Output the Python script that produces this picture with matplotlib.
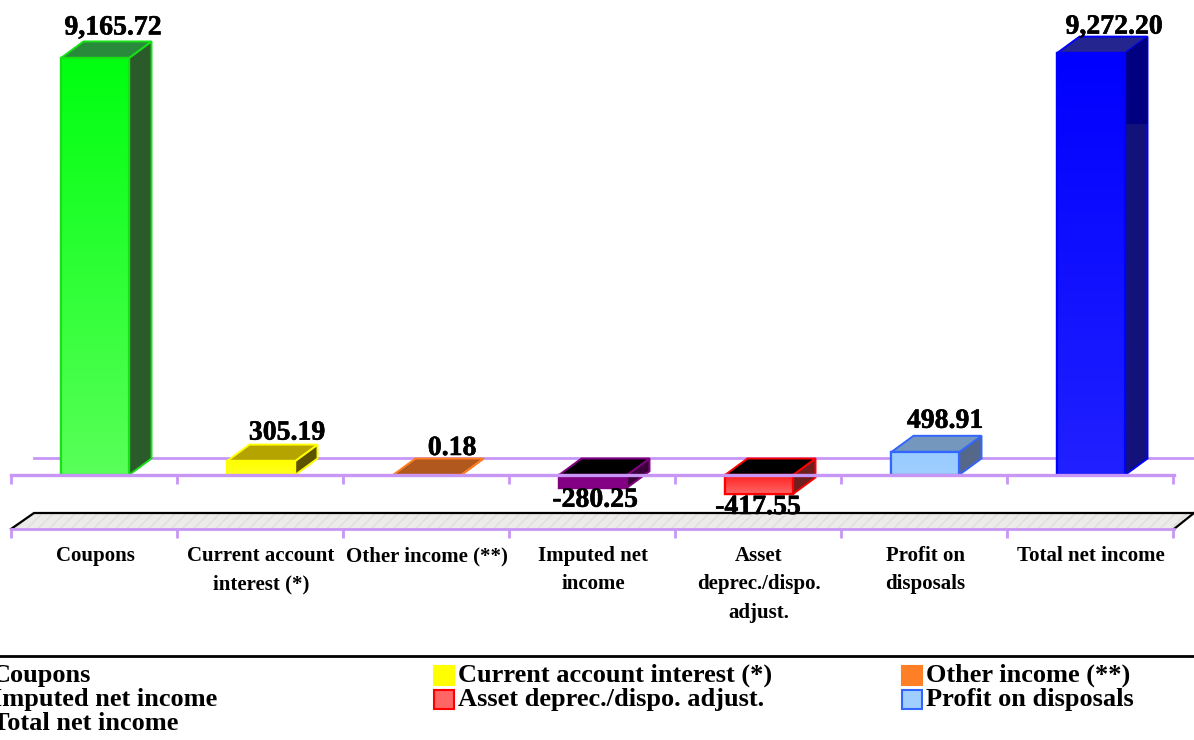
import numpy as np
import matplotlib
matplotlib.use("Agg")
import matplotlib.pyplot as plt
import matplotlib.patheffects as pe
from matplotlib.patches import Polygon
from matplotlib.colors import LinearSegmentedColormap

categories = ["Coupons", "Current account\ninterest (*)", "Other income (**)",
              "Imputed net\nincome", "Asset\ndeprec./dispo.\nadjust.",
              "Profit on\ndisposals", "Total net income"]
legend_names = ["Coupons", "Current account interest (*)", "Other income (**)",
                "Imputed net income", "Asset deprec./dispo. adjust.", "Profit on disposals",
                "Total net income"]
values = [9165.72, 305.19, 0.18, -280.25, -417.55, 498.91, 9272.20]
value_labels = ["9,165.72", "305.19", "0.18", "-280.25", "-417.55", "498.91", "9,272.20"]

# styles: front gradient (top, bottom), edge, top face, side face
front_top = ["#00ff10", "#ffff00", "#ff7f27", "#800080", "#ff2020", "#99ccff", "#0000ff"]
front_bot = ["#58ff58", "#ffff20", "#ff7f27", "#880088", "#ff6666", "#a0ceff", "#2020ff"]
edges = ["#16e016", "#ffff00", "#ff7f27", "#800080", "#ff0000", "#3366ff", "#0000ff"]
top_faces = ["#2a8a3c", "#b5a400", "#b0581e", "#000000", "#000000", "#7497bd", "#25258f"]
side_faces = ["#2b5a2b", "#5c5200", "#7a3c10", "#3a003a", "#6e2020", "#55688a", "#12127a"]
label_dx_px = [18, 26, 25, 2, -1, 20, 23]
label_dy_px = [-30, -28, -26.5, 12.5, 13.5, -31, -26]

W, H = 1194, 740
BASE_PX = 475
PX_PER_UNIT = 0.0455
STEP = 166.0
LEFT = 11.0
DX, DY = 22.5, 16.5
BW = 68 / STEP

fig = plt.figure(figsize=(W / 100, H / 100), dpi=100, facecolor="white")
ax = fig.add_axes([0, 0, 1, 1])
xlim = (-0.5 - LEFT / STEP, -0.5 + (W - LEFT) / STEP)
ylim = (-(H - BASE_PX) / PX_PER_UNIT, BASE_PX / PX_PER_UNIT)
ax.set_axis_off()

FONT = "Liberation Serif"
LAV = "#c896f5"
ddx = DX / STEP
ddy = DY / PX_PER_UNIT
px = lambda p: p / STEP
py = lambda p: p / PX_PER_UNIT
X = lambda p: (p - LEFT) / STEP - 0.5
Y = lambda p: (BASE_PX - p) / PX_PER_UNIT

# back wall line
ax.plot([X(34), X(1194)], [Y(458), Y(458)], color=LAV, lw=2, zorder=1)

xs = np.arange(len(values)) + px(1)
for i, (x, v) in enumerate(zip(xs, values)):
    l, r = x - BW / 2, x + BW / 2
    t = max(v, 0)
    b = min(v, 0)
    side = Polygon([(r, b), (r + ddx, b + ddy), (r + ddx, t + ddy), (r, t)],
                   facecolor=side_faces[i], edgecolor=edges[i], lw=1.4, zorder=2, joinstyle="miter")
    top = Polygon([(l, t), (l + ddx, t + ddy), (r + ddx, t + ddy), (r, t)],
                  facecolor=top_faces[i], edgecolor=edges[i], lw=1.4, zorder=2, joinstyle="miter")
    ax.add_patch(side)
    ax.add_patch(top)
    bar = ax.bar(x, v, width=BW, bottom=0, facecolor=front_top[i], edgecolor=edges[i],
                 lw=1.6, zorder=3)[0]
    if abs(v) > 1:
        cm = LinearSegmentedColormap.from_list("g", [front_top[i], front_bot[i]])
        im = ax.imshow(np.linspace(0, 1, 64)[:, None], cmap=cm, aspect="auto",
                       extent=(l, r, b, t), zorder=3.1, interpolation="bilinear")
        im.set_clip_path(bar)
        ax.bar(x, v, width=BW, bottom=0, facecolor="none", edgecolor=edges[i], lw=1.6, zorder=3.2)
    if i == 6:
        # upper part of the blue side face is a darker shade
        upper = Polygon([(r, Y(124)), (r + ddx, Y(124)), (r + ddx, t + ddy), (r, t)],
                        facecolor="#000080", edgecolor="none", zorder=2.5)
        ax.add_patch(upper)

# axis line and ticks at the value zero
ax.plot([X(11), X(1174)], [0, 0], color=LAV, lw=2.4, zorder=4)
ticks = np.arange(len(values) + 1) - 0.5
ax.vlines(ticks, Y(484), 0, color=LAV, lw=2, zorder=4)

# floor band
floor = Polygon([(X(11), Y(529)), (X(34), Y(513)), (X(1194), Y(513)), (X(1174), Y(529))],
                facecolor="#ecebe9", edgecolor="#dededc", hatch="///", lw=0, zorder=1)
ax.add_patch(floor)
ax.plot([X(11), X(34), X(1194)], [Y(529), Y(513), Y(513)], color="black", lw=1.6, zorder=2)
ax.plot([X(1174), X(1194)], [Y(529), Y(513)], color="black", lw=1.6, zorder=2)
ax.plot([X(11), X(1174)], [Y(529), Y(529)], color=LAV, lw=2, zorder=2)
ax.vlines(ticks, Y(538), Y(529), color=LAV, lw=2, zorder=2)

# value labels
for i, (x, v, s) in enumerate(zip(xs, values, value_labels)):
    base = v if v > 0 else (0 if v > -1 else v)
    ax.text(x + px(label_dx_px[i]), base - py(label_dy_px[i]),
            s, ha="center", va="center", family=FONT, weight="bold", fontsize=20, zorder=6,
            color="black", path_effects=[pe.withStroke(linewidth=0.4, foreground="black")])

# category labels
for i, s in enumerate(categories):
    ax.text(i + px(1), Y(546), s, ha="center", va="top", family=FONT, weight="bold", fontsize=15,
            linespacing=1.56, color="black", zorder=6)

# legend block
ax.plot([X(0), X(1194)], [Y(655.5), Y(655.5)], color="black", lw=2, zorder=5)
col_text = [-8, 458, 926]
row_y = [675.5, 699.5, 723.5]
for k, s in enumerate(legend_names):
    c, r = k % 3, k // 3
    tx, ty = col_text[c], row_y[r]
    swatch_l = tx - 25
    fill = front_bot[k] if k in (4, 5, 6) else front_top[k]
    ax.bar(X(swatch_l + 10.5), py(19), width=px(20), bottom=Y(ty + 9),
           facecolor=fill, edgecolor=edges[k], lw=1.5, zorder=5)
    ax.text(X(tx), Y(ty), s, ha="left", va="center", family=FONT, weight="bold",
            fontsize=19, color="black", zorder=6)

ax.set_xlim(xlim)
ax.set_ylim(ylim)
fig.savefig("out.png", dpi=100, facecolor="white")
